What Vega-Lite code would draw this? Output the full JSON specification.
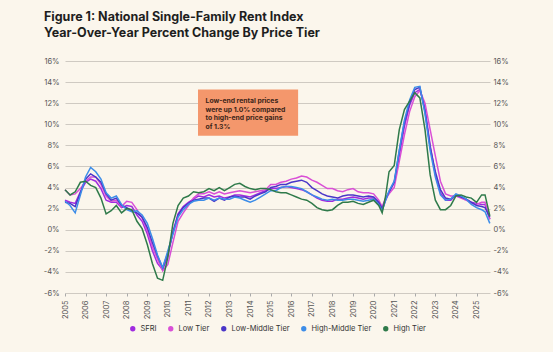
{
  "$schema": "https://vega.github.io/schema/vega-lite/v6.json",
  "width": 425,
  "height": 232,
  "autosize": {"type": "none"},
  "padding": {"left": 65, "top": 61, "right": 63, "bottom": 59},
  "background": "#FBF6EC",
  "title": {
    "text": ["Figure 1: National Single-Family Rent Index", "Year-Over-Year Percent Change By Price Tier"],
    "anchor": "start",
    "frame": "group",
    "dx": -21,
    "offset": 18,
    "font": "Inter",
    "fontSize": 12.5,
    "fontWeight": 700,
    "color": "#1e1e1e",
    "lineHeight": 15.5
  },
  "config": {
    "view": {"stroke": null},
    "font": "Inter",
    "axis": {"labelFont": "Inter", "labelColor": "#555555", "labelFontSize": 7.5},
    "legend": {"layout": {"bottom": {"anchor": "middle"}}}
  },
  "datasets": {
    "rent": [
      {"date": "2005-01-01", "SFRI": 2.8, "Low Tier": 3.8, "Low-Middle Tier": 2.6, "High-Middle Tier": 2.7, "High Tier": 3.8},
      {"date": "2005-04-01", "SFRI": 2.6, "Low Tier": 3.3, "Low-Middle Tier": 2.5, "High-Middle Tier": 2.3, "High Tier": 3.3},
      {"date": "2005-07-01", "SFRI": 2.5, "Low Tier": 3.4, "Low-Middle Tier": 2.2, "High-Middle Tier": 1.6, "High Tier": 3.6},
      {"date": "2005-10-01", "SFRI": 3.6, "Low Tier": 3.9, "Low-Middle Tier": 3.5, "High-Middle Tier": 3.3, "High Tier": 4.5},
      {"date": "2006-01-01", "SFRI": 4.5, "Low Tier": 4.6, "Low-Middle Tier": 4.8, "High-Middle Tier": 5.0, "High Tier": 4.6},
      {"date": "2006-04-01", "SFRI": 4.8, "Low Tier": 5.0, "Low-Middle Tier": 5.3, "High-Middle Tier": 5.9, "High Tier": 4.2},
      {"date": "2006-07-01", "SFRI": 4.6, "Low Tier": 5.0, "Low-Middle Tier": 5.0, "High-Middle Tier": 5.5, "High Tier": 4.0},
      {"date": "2006-10-01", "SFRI": 3.9, "Low Tier": 4.3, "Low-Middle Tier": 4.5, "High-Middle Tier": 4.8, "High Tier": 3.0},
      {"date": "2007-01-01", "SFRI": 2.8, "Low Tier": 3.2, "Low-Middle Tier": 3.4, "High-Middle Tier": 3.5, "High Tier": 1.5},
      {"date": "2007-04-01", "SFRI": 2.6, "Low Tier": 2.7, "Low-Middle Tier": 2.8, "High-Middle Tier": 3.0, "High Tier": 1.8},
      {"date": "2007-07-01", "SFRI": 2.6, "Low Tier": 2.8, "Low-Middle Tier": 3.0, "High-Middle Tier": 3.2, "High Tier": 2.3},
      {"date": "2007-10-01", "SFRI": 2.1, "Low Tier": 2.2, "Low-Middle Tier": 2.3, "High-Middle Tier": 2.4, "High Tier": 1.6},
      {"date": "2008-01-01", "SFRI": 2.3, "Low Tier": 2.7, "Low-Middle Tier": 2.1, "High-Middle Tier": 1.9, "High Tier": 2.0},
      {"date": "2008-04-01", "SFRI": 2.2, "Low Tier": 2.6, "Low-Middle Tier": 1.8, "High-Middle Tier": 1.7, "High Tier": 1.9},
      {"date": "2008-07-01", "SFRI": 1.4, "Low Tier": 1.9, "Low-Middle Tier": 1.6, "High-Middle Tier": 1.8, "High Tier": 0.8},
      {"date": "2008-10-01", "SFRI": 0.8, "Low Tier": 1.1, "Low-Middle Tier": 1.2, "High-Middle Tier": 1.4, "High Tier": 0.1},
      {"date": "2009-01-01", "SFRI": -0.4, "Low Tier": -0.1, "Low-Middle Tier": 0.2, "High-Middle Tier": 0.6, "High Tier": -1.4},
      {"date": "2009-04-01", "SFRI": -2.0, "Low Tier": -1.6, "Low-Middle Tier": -1.2, "High-Middle Tier": -0.8, "High Tier": -3.2},
      {"date": "2009-07-01", "SFRI": -3.2, "Low Tier": -2.8, "Low-Middle Tier": -2.5, "High-Middle Tier": -2.4, "High Tier": -4.6},
      {"date": "2009-10-01", "SFRI": -3.8, "Low Tier": -3.9, "Low-Middle Tier": -3.6, "High-Middle Tier": -3.6, "High Tier": -4.8},
      {"date": "2010-01-01", "SFRI": -2.5, "Low Tier": -3.3, "Low-Middle Tier": -2.2, "High-Middle Tier": -2.0, "High Tier": -2.6},
      {"date": "2010-04-01", "SFRI": -0.2, "Low Tier": -1.2, "Low-Middle Tier": -0.3, "High-Middle Tier": -0.4, "High Tier": 0.6},
      {"date": "2010-07-01", "SFRI": 1.5, "Low Tier": 0.8, "Low-Middle Tier": 1.4, "High-Middle Tier": 1.2, "High Tier": 2.3},
      {"date": "2010-10-01", "SFRI": 2.2, "Low Tier": 1.6, "Low-Middle Tier": 2.1, "High-Middle Tier": 1.9, "High Tier": 3.0},
      {"date": "2011-01-01", "SFRI": 2.6, "Low Tier": 2.3, "Low-Middle Tier": 2.5, "High-Middle Tier": 2.4, "High Tier": 3.2},
      {"date": "2011-04-01", "SFRI": 2.9, "Low Tier": 3.0, "Low-Middle Tier": 2.8, "High-Middle Tier": 2.7, "High Tier": 3.6},
      {"date": "2011-07-01", "SFRI": 3.2, "Low Tier": 3.4, "Low-Middle Tier": 2.9, "High-Middle Tier": 2.8, "High Tier": 3.5},
      {"date": "2011-10-01", "SFRI": 3.1, "Low Tier": 3.4, "Low-Middle Tier": 3.0, "High-Middle Tier": 2.8, "High Tier": 3.6},
      {"date": "2012-01-01", "SFRI": 3.3, "Low Tier": 3.6, "Low-Middle Tier": 3.0, "High-Middle Tier": 3.0, "High Tier": 3.9},
      {"date": "2012-04-01", "SFRI": 3.1, "Low Tier": 3.4, "Low-Middle Tier": 2.7, "High-Middle Tier": 2.8, "High Tier": 3.7},
      {"date": "2012-07-01", "SFRI": 3.2, "Low Tier": 3.6, "Low-Middle Tier": 3.0, "High-Middle Tier": 3.0, "High Tier": 4.0},
      {"date": "2012-10-01", "SFRI": 3.0, "Low Tier": 3.4, "Low-Middle Tier": 2.8, "High-Middle Tier": 2.9, "High Tier": 3.7},
      {"date": "2013-01-01", "SFRI": 3.1, "Low Tier": 3.5, "Low-Middle Tier": 3.1, "High-Middle Tier": 2.9, "High Tier": 4.0},
      {"date": "2013-04-01", "SFRI": 3.3, "Low Tier": 3.6, "Low-Middle Tier": 3.2, "High-Middle Tier": 3.1, "High Tier": 4.3},
      {"date": "2013-07-01", "SFRI": 3.3, "Low Tier": 3.7, "Low-Middle Tier": 3.1, "High-Middle Tier": 3.0, "High Tier": 4.4},
      {"date": "2013-10-01", "SFRI": 3.2, "Low Tier": 3.6, "Low-Middle Tier": 3.1, "High-Middle Tier": 2.8, "High Tier": 4.1},
      {"date": "2014-01-01", "SFRI": 3.1, "Low Tier": 3.5, "Low-Middle Tier": 2.9, "High-Middle Tier": 2.6, "High Tier": 3.9},
      {"date": "2014-04-01", "SFRI": 3.3, "Low Tier": 3.6, "Low-Middle Tier": 3.2, "High-Middle Tier": 2.8, "High Tier": 3.8},
      {"date": "2014-07-01", "SFRI": 3.5, "Low Tier": 3.7, "Low-Middle Tier": 3.4, "High-Middle Tier": 3.1, "High Tier": 3.9},
      {"date": "2014-10-01", "SFRI": 3.7, "Low Tier": 3.8, "Low-Middle Tier": 3.6, "High-Middle Tier": 3.4, "High Tier": 3.9},
      {"date": "2015-01-01", "SFRI": 3.9, "Low Tier": 4.3, "Low-Middle Tier": 4.0, "High-Middle Tier": 3.7, "High Tier": 3.8},
      {"date": "2015-04-01", "SFRI": 3.9, "Low Tier": 4.3, "Low-Middle Tier": 4.1, "High-Middle Tier": 3.7, "High Tier": 3.6},
      {"date": "2015-07-01", "SFRI": 4.0, "Low Tier": 4.5, "Low-Middle Tier": 4.3, "High-Middle Tier": 4.0, "High Tier": 3.5},
      {"date": "2015-10-01", "SFRI": 4.1, "Low Tier": 4.6, "Low-Middle Tier": 4.3, "High-Middle Tier": 4.1, "High Tier": 3.5},
      {"date": "2016-01-01", "SFRI": 4.0, "Low Tier": 4.8, "Low-Middle Tier": 4.5, "High-Middle Tier": 4.1, "High Tier": 3.3},
      {"date": "2016-04-01", "SFRI": 3.9, "Low Tier": 4.9, "Low-Middle Tier": 4.6, "High-Middle Tier": 4.0, "High Tier": 3.1},
      {"date": "2016-07-01", "SFRI": 3.8, "Low Tier": 5.1, "Low-Middle Tier": 4.7, "High-Middle Tier": 3.9, "High Tier": 2.9},
      {"date": "2016-10-01", "SFRI": 3.6, "Low Tier": 5.0, "Low-Middle Tier": 4.5, "High-Middle Tier": 3.6, "High Tier": 2.8},
      {"date": "2017-01-01", "SFRI": 3.3, "Low Tier": 4.7, "Low-Middle Tier": 4.0, "High-Middle Tier": 3.3, "High Tier": 2.5},
      {"date": "2017-04-01", "SFRI": 3.0, "Low Tier": 4.5, "Low-Middle Tier": 3.7, "High-Middle Tier": 3.1, "High Tier": 2.1},
      {"date": "2017-07-01", "SFRI": 2.8, "Low Tier": 4.2, "Low-Middle Tier": 3.4, "High-Middle Tier": 2.9, "High Tier": 1.9},
      {"date": "2017-10-01", "SFRI": 2.7, "Low Tier": 3.9, "Low-Middle Tier": 3.2, "High-Middle Tier": 2.8, "High Tier": 1.8},
      {"date": "2018-01-01", "SFRI": 2.7, "Low Tier": 3.9, "Low-Middle Tier": 3.1, "High-Middle Tier": 2.9, "High Tier": 1.9},
      {"date": "2018-04-01", "SFRI": 2.9, "Low Tier": 3.7, "Low-Middle Tier": 3.0, "High-Middle Tier": 2.8, "High Tier": 2.3},
      {"date": "2018-07-01", "SFRI": 2.9, "Low Tier": 3.6, "Low-Middle Tier": 3.2, "High-Middle Tier": 2.8, "High Tier": 2.6},
      {"date": "2018-10-01", "SFRI": 3.0, "Low Tier": 3.8, "Low-Middle Tier": 3.3, "High-Middle Tier": 2.9, "High Tier": 2.6},
      {"date": "2019-01-01", "SFRI": 3.1, "Low Tier": 3.9, "Low-Middle Tier": 3.3, "High-Middle Tier": 2.9, "High Tier": 2.7},
      {"date": "2019-04-01", "SFRI": 3.0, "Low Tier": 3.6, "Low-Middle Tier": 3.2, "High-Middle Tier": 2.8, "High Tier": 2.5},
      {"date": "2019-07-01", "SFRI": 2.9, "Low Tier": 3.5, "Low-Middle Tier": 3.1, "High-Middle Tier": 2.7, "High Tier": 2.4},
      {"date": "2019-10-01", "SFRI": 3.0, "Low Tier": 3.5, "Low-Middle Tier": 3.2, "High-Middle Tier": 2.8, "High Tier": 2.6},
      {"date": "2020-01-01", "SFRI": 3.0, "Low Tier": 3.4, "Low-Middle Tier": 3.1, "High-Middle Tier": 2.9, "High Tier": 2.8},
      {"date": "2020-04-01", "SFRI": 2.5, "Low Tier": 2.8, "Low-Middle Tier": 2.6, "High-Middle Tier": 2.4, "High Tier": 2.3},
      {"date": "2020-06-01", "SFRI": 1.9, "Low Tier": 2.2, "Low-Middle Tier": 2.0, "High-Middle Tier": 1.8, "High Tier": 1.6},
      {"date": "2020-08-01", "SFRI": 2.8, "Low Tier": 3.0, "Low-Middle Tier": 2.9, "High-Middle Tier": 2.8, "High Tier": 3.2},
      {"date": "2020-10-01", "SFRI": 3.5, "Low Tier": 3.4, "Low-Middle Tier": 3.6, "High-Middle Tier": 3.7, "High Tier": 5.5},
      {"date": "2021-01-01", "SFRI": 4.5, "Low Tier": 4.0, "Low-Middle Tier": 4.5, "High-Middle Tier": 4.6, "High Tier": 6.1},
      {"date": "2021-04-01", "SFRI": 7.0, "Low Tier": 6.5, "Low-Middle Tier": 7.5, "High-Middle Tier": 7.5, "High Tier": 9.5},
      {"date": "2021-07-01", "SFRI": 9.8, "Low Tier": 9.0, "Low-Middle Tier": 10.2, "High-Middle Tier": 10.4, "High Tier": 11.4},
      {"date": "2021-10-01", "SFRI": 11.8, "Low Tier": 11.2, "Low-Middle Tier": 12.0, "High-Middle Tier": 12.3, "High Tier": 12.2},
      {"date": "2022-01-01", "SFRI": 13.0, "Low Tier": 12.6, "Low-Middle Tier": 13.3, "High-Middle Tier": 13.5, "High Tier": 13.0},
      {"date": "2022-04-01", "SFRI": 13.3, "Low Tier": 13.2, "Low-Middle Tier": 13.5, "High-Middle Tier": 13.6, "High Tier": 12.5},
      {"date": "2022-07-01", "SFRI": 11.5, "Low Tier": 12.0, "Low-Middle Tier": 11.2, "High-Middle Tier": 11.0, "High Tier": 9.5},
      {"date": "2022-10-01", "SFRI": 8.0, "Low Tier": 9.5, "Low-Middle Tier": 7.8, "High-Middle Tier": 7.5, "High Tier": 5.2},
      {"date": "2023-01-01", "SFRI": 5.2, "Low Tier": 7.0, "Low-Middle Tier": 5.5, "High-Middle Tier": 5.0, "High Tier": 2.8},
      {"date": "2023-04-01", "SFRI": 3.5, "Low Tier": 4.6, "Low-Middle Tier": 3.8, "High-Middle Tier": 3.3, "High Tier": 1.9},
      {"date": "2023-07-01", "SFRI": 2.8, "Low Tier": 3.4, "Low-Middle Tier": 3.0, "High-Middle Tier": 2.8, "High Tier": 1.9},
      {"date": "2023-10-01", "SFRI": 2.8, "Low Tier": 3.2, "Low-Middle Tier": 2.9, "High-Middle Tier": 2.9, "High Tier": 2.3},
      {"date": "2024-01-01", "SFRI": 3.3, "Low Tier": 3.2, "Low-Middle Tier": 3.3, "High-Middle Tier": 3.4, "High Tier": 3.2},
      {"date": "2024-04-01", "SFRI": 3.1, "Low Tier": 3.0, "Low-Middle Tier": 3.1, "High-Middle Tier": 3.2, "High Tier": 3.3},
      {"date": "2024-07-01", "SFRI": 2.9, "Low Tier": 2.8, "Low-Middle Tier": 2.9, "High-Middle Tier": 2.9, "High Tier": 3.1},
      {"date": "2024-10-01", "SFRI": 2.6, "Low Tier": 2.5, "Low-Middle Tier": 2.6, "High-Middle Tier": 2.4, "High Tier": 3.0},
      {"date": "2025-01-01", "SFRI": 2.5, "Low Tier": 2.4, "Low-Middle Tier": 2.3, "High-Middle Tier": 2.1, "High Tier": 2.6},
      {"date": "2025-04-01", "SFRI": 2.4, "Low Tier": 2.6, "Low-Middle Tier": 2.2, "High-Middle Tier": 1.9, "High Tier": 3.3},
      {"date": "2025-06-01", "SFRI": 2.4, "Low Tier": 2.6, "Low-Middle Tier": 2.1, "High-Middle Tier": 1.7, "High Tier": 3.3},
      {"date": "2025-08-25", "SFRI": 1.0, "Low Tier": 1.0, "Low-Middle Tier": 1.2, "High-Middle Tier": 0.6, "High Tier": 1.3}
    ],
    "note": [
      {"x1": "2011-06-20", "x2": "2016-05-01", "y1": 13.3, "y2": 8.9, "tx": "2011-11-01", "ty": 12.5, "label": "Low-end rental prices\nwere up 1.0% compared\nto high-end price gains\nof 1.3%"}
    ]
  },
  "encoding": {
    "x": {"type": "temporal", "scale": {"domain": ["2005-01-01", "2025-08-28"]}},
    "y": {"type": "quantitative", "scale": {"domain": [-6, 16], "nice": false, "zero": false}}
  },
  "layer": [
    {
      "mark": {"type": "rule", "color": "#cfcac2", "strokeWidth": 1},
      "encoding": {
        "x": {"datum": "2004-01-20", "type": "temporal"},
        "x2": {"datum": "2025-03-01"},
        "y": {"datum": 17.6, "type": "quantitative", "axis": null}
      }
    },
    {
      "mark": {"type": "rule", "color": "#333333", "strokeWidth": 2},
      "encoding": {
        "x": {"datum": "2004-01-20", "type": "temporal"},
        "x2": {"datum": "2004-04-10"},
        "y": {"datum": 17.55, "type": "quantitative", "axis": null}
      }
    },
    {
      "mark": {"type": "rule", "color": "#888888", "strokeWidth": 1},
      "encoding": {
        "y": {"datum": 0, "type": "quantitative", "axis": {"orient": "right", "values": [-6, -4, -2, 0, 2, 4, 6, 8, 10, 12, 14, 16], "labelExpr": "datum.value + '%'", "grid": false, "domain": false, "ticks": false, "labelPadding": 3, "title": null}}
      }
    },
    {
      "data": {"name": "rent"},
      "transform": [{"fold": ["SFRI", "Low Tier", "Low-Middle Tier", "High-Middle Tier", "High Tier"], "as": ["series", "value"]}],
      "mark": {"type": "line", "strokeWidth": 1.5, "interpolate": "linear"},
      "encoding": {
        "x": {"field": "date", "type": "temporal", "axis": {"format": "%Y", "labelAngle": -90, "labelAlign": "right", "labelBaseline": "middle", "tickCount": {"interval": "year", "step": 1}, "grid": false, "domain": false, "ticks": true, "tickSize": 3, "tickColor": "#aaaaaa", "labelPadding": 4, "title": null}},
        "y": {"field": "value", "type": "quantitative", "axis": {"orient": "left", "values": [-6, -4, -2, 0, 2, 4, 6, 8, 10, 12, 14, 16], "labelExpr": "datum.value + '%'", "grid": true, "gridColor": "#cfcac2", "gridWidth": 1, "domain": false, "ticks": false, "labelPadding": 6, "title": null}},
        "color": {
          "field": "series", "type": "nominal",
          "scale": {"domain": ["SFRI", "Low Tier", "Low-Middle Tier", "High-Middle Tier", "High Tier"], "range": ["#A02BE0", "#D94FD6", "#4A36C8", "#3D8DE8", "#2F7A4A"]},
          "legend": {"orient": "bottom", "direction": "horizontal", "title": null, "symbolType": "circle", "symbolSize": 28, "symbolStrokeWidth": 0, "gridAlign": "none", "labelFontSize": 7.5, "labelColor": "#333333", "labelFont": "Inter", "columnPadding": 10, "offset": 6,
            "encode": {"symbols": {"update": {"fill": {"scale": "color", "field": "value"}, "fillOpacity": {"value": 1}}}}}
        }
      }
    },
    {
      "data": {"name": "note"},
      "mark": {"type": "rect", "color": "#F4976C"},
      "encoding": {
        "x": {"field": "x1", "type": "temporal"},
        "x2": {"field": "x2"},
        "y": {"field": "y1", "type": "quantitative", "axis": null},
        "y2": {"field": "y2"}
      }
    },
    {
      "data": {"name": "note"},
      "mark": {"type": "text", "align": "left", "baseline": "top", "fontSize": 6.8, "fontWeight": 700, "color": "#3a2418", "lineHeight": 8.7, "lineBreak": "\n", "font": "Inter"},
      "encoding": {
        "x": {"field": "tx", "type": "temporal"},
        "y": {"field": "ty", "type": "quantitative", "axis": null},
        "text": {"field": "label", "type": "nominal"}
      }
    },
    {
      "mark": {"type": "text", "align": "left", "baseline": "middle", "fontSize": 6.5, "color": "#444444", "font": "Inter"},
      "encoding": {
        "x": {"datum": "2004-02-15", "type": "temporal"},
        "y": {"datum": -10.8, "type": "quantitative", "axis": null},
        "text": {"value": "Source: Cotality Single-Family Rent Index, September 2025"}
      }
    },
    {
      "mark": {"type": "text", "align": "right", "baseline": "middle", "fontSize": 6.5, "color": "#444444", "font": "Inter"},
      "encoding": {
        "x": {"datum": "2026-10-30", "type": "temporal"},
        "y": {"datum": -10.8, "type": "quantitative", "axis": null},
        "text": {"value": "© 2025 Cotality. All Rights Reserved."}
      }
    }
  ],
  "resolve": {"axis": {"y": "independent"}}
}
